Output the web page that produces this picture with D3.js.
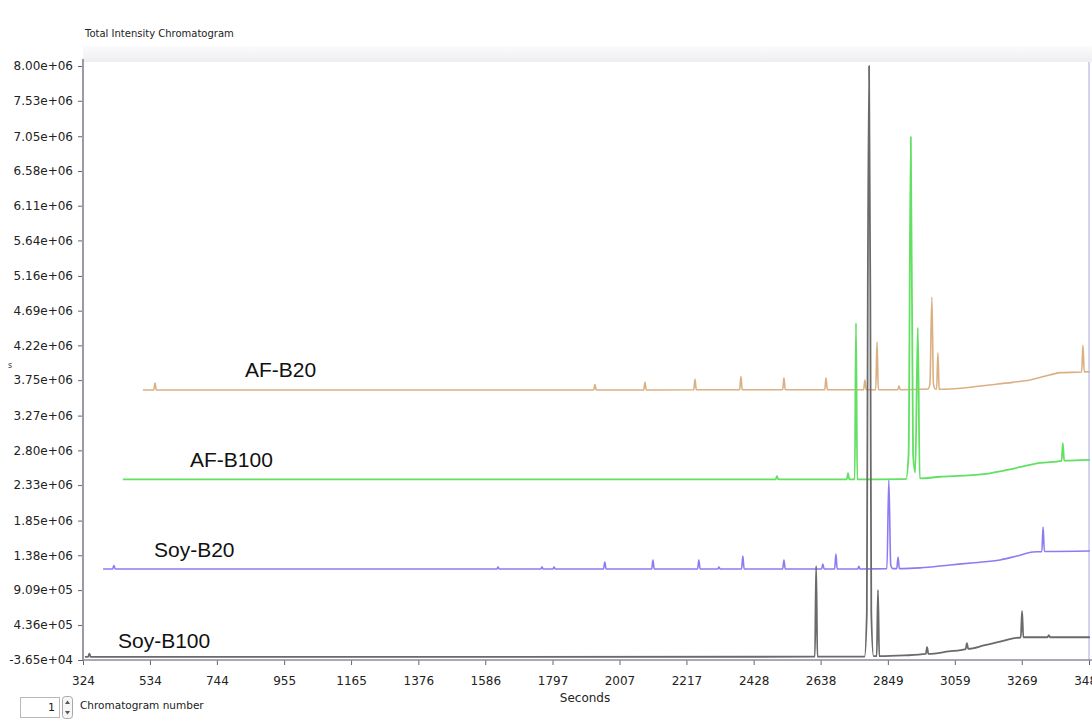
<!DOCTYPE html>
<html><head><meta charset="utf-8">
<script src="https://cdn.jsdelivr.net/npm/d3@7"></script>
<style>body{margin:0;background:#fff;overflow:hidden} svg{display:block}</style>
</head><body><svg id="c" width="1092" height="726"></svg>
<script>
// ---- data (time in seconds, total intensity) ----
const seriesNames = ["AF-B20", "Soy-B20", "AF-B100", "Soy-B100"];

const afB20 = [
  [512,3.616e6],[546,3.616e6],[550,3.711e6],[554,3.616e6],
  [1926,3.616e6],[1930,3.69e6],[1934,3.616e6],
  [2083,3.616e6],[2087,3.72e6],[2091,3.616e6],
  [2240,3.62e6],[2244,3.76e6],[2248,3.62e6],
  [2384,3.62e6],[2388,3.80e6],[2392,3.62e6],
  [2519,3.62e6],[2523,3.78e6],[2527,3.62e6],
  [2651,3.62e6],[2655,3.78e6],[2659,3.62e6],
  [2773,3.62e6],[2777,3.75e6],[2781,3.62e6],
  [2811,3.62e6],[2815,4.27e6],[2819,3.62e6],
  [2880,3.62e6],[2884,3.67e6],[2888,3.62e6],
  [2975,3.63e6],[2981,3.70e6],[2987,4.875e6],[2992,3.70e6],[2998,3.63e6],
  [3002,3.63e6],[3006,4.12e6],[3010,3.63e6],
  [3013,3.626e6],[3100,3.65e6],[3169,3.684e6],[3240,3.72e6],[3295,3.752e6],[3357,3.820e6],[3389,3.851e6],
  [3457,3.86e6],[3461,4.225e6],[3465,3.862e6],[3483,3.864e6]
];

const afB100 = [
  [449,2.408e6],
  [2497,2.408e6],[2501,2.45e6],[2505,2.408e6],
  [2720,2.408e6],[2724,2.49e6],[2728,2.408e6],
  [2745,2.408e6],[2749,4.523e6],[2753,2.408e6],
  [2906,2.41e6],[2914,2.75e6],[2921,7.04e6],[2928,2.75e6],[2935,2.5e6],[2943,4.46e6],[2949,2.42e6],
  [3013,2.443e6],[3100,2.46e6],[3169,2.489e6],[3240,2.55e6],[3295,2.602e6],[3326,2.629e6],
  [3394,2.658e6],[3398,2.899e6],[3402,2.66e6],[3483,2.670e6]
];

const soyB20 = [
  [387,1.195e6],
  [417,1.195e6],[421,1.24e6],[425,1.195e6],
  [1622,1.195e6],[1626,1.22e6],[1630,1.195e6],
  [1760,1.195e6],[1764,1.22e6],[1768,1.195e6],
  [1798,1.195e6],[1802,1.22e6],[1806,1.195e6],
  [1957,1.195e6],[1961,1.29e6],[1965,1.195e6],
  [2108,1.195e6],[2112,1.317e6],[2116,1.195e6],
  [2252,1.195e6],[2256,1.317e6],[2260,1.195e6],
  [2315,1.195e6],[2319,1.22e6],[2323,1.195e6],
  [2390,1.195e6],[2394,1.371e6],[2398,1.195e6],
  [2519,1.195e6],[2523,1.317e6],[2527,1.195e6],
  [2641,1.195e6],[2645,1.26e6],[2649,1.195e6],
  [2682,1.195e6],[2686,1.398e6],[2690,1.195e6],
  [2754,1.195e6],[2758,1.23e6],[2762,1.195e6],
  [2846,1.2e6],[2852,2.40e6],[2858,1.25e6],[2864,1.2e6],
  [2877,1.2e6],[2881,1.357e6],[2885,1.2e6],
  [2950,1.21e6],[3044,1.249e6],[3120,1.28e6],[3201,1.317e6],[3254,1.371e6],[3304,1.425e6],
  [3332,1.43e6],[3336,1.763e6],[3340,1.432e6],[3483,1.438e6]
];

const soyB100 = [
  [330,5e3],[340,5e3],[344,5e4],[348,5e3],
  [2620,8e3],[2624,1.235e6],[2628,8e3],
  [2776,1e4],[2783,6e5],[2786,4.9e6],[2790,8.0e6],[2794,4.9e6],[2797,6e5],[2804,1.5e4],
  [2814,1.5e4],[2818,9.11e5],[2822,1.5e4],
  [2900,2.5e4],
  [2968,4.5e4],[2972,1.39e5],[2976,4.7e4],
  [3040,8.0e4],
  [3093,1.12e5],[3097,1.93e5],[3101,1.15e5],
  [3150,1.6e5],[3201,2.11e5],[3242,2.57e5],
  [3266,2.71e5],[3270,6.27e5],[3274,2.71e5],
  [3350,2.71e5],[3354,3.0e5],[3358,2.71e5],[3483,2.71e5]
];

const xTickValues = [324,534,744,955,1165,1376,1586,1797,2007,2217,2428,2638,2849,3059,3269,3480];
const xTickLabels = ["324","534","744","955","1165","1376","1586","1797","2007","2217","2428","2638","2849","3059","3269","3480"];
const yTickValues = [-36500,436000,909000,1380000,1850000,2330000,2800000,3270000,3750000,4220000,4690000,5160000,5640000,6110000,6580000,7050000,7530000,8000000];
const yTickLabels = ["-3.65e+04","4.36e+05","9.09e+05","1.38e+06","1.85e+06","2.33e+06","2.80e+06","3.27e+06","3.75e+06","4.22e+06","4.69e+06","5.16e+06","5.64e+06","6.11e+06","6.58e+06","7.05e+06","7.53e+06","8.00e+06"];

// ---- layout ----
const svg = d3.select("#c");
const L = 83, R = 1089, T = 62, B = 660;
const x = d3.scaleLinear().domain([324, 3480]).range([L, R]);
const y = d3.scaleLinear().domain([-36500, 8000000]).range([B, 66]);

// top band
const defs = svg.append("defs");
const g1 = defs.append("linearGradient").attr("id","band").attr("x1",0).attr("y1",0).attr("x2",0).attr("y2",1);
g1.append("stop").attr("offset","0%").attr("stop-color","#fbfbfc");
g1.append("stop").attr("offset","100%").attr("stop-color","#eeeef1");
svg.append("rect").attr("x",L).attr("y",46).attr("width",1092-L).attr("height",T-46).attr("fill","url(#band)");
defs.append("clipPath").attr("id","clip").append("rect").attr("x",L).attr("y",T).attr("width",R-L+1).attr("height",B-T);

// title
svg.append("text").attr("x",85).attr("y",37).attr("font-family","DejaVu Sans").attr("font-size",10)
  .attr("fill","#222").text("Total Intensity Chromatogram");

// right border
svg.append("line").attr("x1",R).attr("x2",R).attr("y1",T).attr("y2",B).attr("stroke","#c4c4f2").attr("stroke-width",1.5);

// lines
const line = d3.line().x(d => x(d[0])).y(d => y(d[1])).curve(d3.curveMonotoneX);
const series = [
  {name:"AF-B20", data:afB20, color:"#dab083", w:1.6},
  {name:"Soy-B20", data:soyB20, color:"#8c7cf2", w:1.6},
  {name:"AF-B100", data:afB100, color:"#62e062", w:1.8},
  {name:"Soy-B100", data:soyB100, color:"#6a6a6a", w:1.8}
];
const plot = svg.append("g").attr("clip-path","url(#clip)");
plot.selectAll("path.s").data(series).join("path").attr("class","s")
  .attr("d", d => line(d.data)).attr("fill","none")
  .attr("stroke", d => d.color).attr("stroke-width", d => d.w).attr("stroke-linejoin","round");

// series labels
const labelPos = {"AF-B20":[245,377], "AF-B100":[190,467], "Soy-B20":[154,557], "Soy-B100":[118,648]};
svg.selectAll("text.lab").data(seriesNames).join("text").attr("class","lab")
  .attr("x", d => labelPos[d][0]).attr("y", d => labelPos[d][1])
  .attr("font-family","Liberation Sans, Arial, sans-serif").attr("font-size",21).attr("fill","#111")
  .text(d => d);

// axes
const yAxis = d3.axisLeft(y).tickValues(yTickValues).tickFormat((d,i) => yTickLabels[i]).tickSize(5).tickPadding(5).tickSizeOuter(0);
const gy = svg.append("g").attr("transform",`translate(${L},0)`).call(yAxis);
gy.select(".domain").remove();
svg.append("line").attr("x1",L).attr("x2",L).attr("y1",59).attr("y2",B).attr("stroke","#9a9aa6").attr("stroke-width",2);
gy.selectAll(".tick line").attr("stroke","#666");
gy.selectAll(".tick text").attr("font-family","DejaVu Sans").attr("font-size",12).attr("fill","#222");

const xAxis = d3.axisBottom(x).tickValues(xTickValues).tickFormat((d,i) => xTickLabels[i]).tickSize(5).tickPadding(11).tickSizeOuter(0);
const gx = svg.append("g").attr("transform",`translate(0,${B})`).call(xAxis);
gx.select(".domain").remove();
svg.append("line").attr("x1",L).attr("x2",1092).attr("y1",B).attr("y2",B).attr("stroke","#8c8c9c").attr("stroke-width",1.6);
gx.selectAll(".tick line").attr("stroke","#666");
gx.selectAll(".tick text").attr("font-family","DejaVu Sans").attr("font-size",12).attr("fill","#222");

svg.append("text").attr("x",585).attr("y",702).attr("text-anchor","middle")
  .attr("font-family","DejaVu Sans").attr("font-size",12).attr("fill","#222").text("Seconds");

// clipped y-axis title fragment
svg.append("text").attr("x",8).attr("y",368).attr("font-family","DejaVu Sans").attr("font-size",8).attr("fill","#333").text("s");

// chromatogram number control
svg.append("rect").attr("x",20.5).attr("y",697.5).attr("width",39).attr("height",20).attr("fill","#fff").attr("stroke","#b8b8b8");
svg.append("text").attr("x",55).attr("y",711).attr("text-anchor","end").attr("font-family","DejaVu Sans").attr("font-size",11).attr("fill","#222").text("1");
svg.append("rect").attr("x",62.5).attr("y",696.5).attr("width",10).attr("height",22).attr("rx",3).attr("fill","#f6f6f6").attr("stroke","#a8a8a8");
svg.append("path").attr("d","M65,704 L67.5,700.5 L70,704 Z").attr("fill","#555");
svg.append("path").attr("d","M65,711 L67.5,714.5 L70,711 Z").attr("fill","#555");
svg.append("text").attr("x",80).attr("y",709).attr("font-family","DejaVu Sans").attr("font-size",10.5).attr("fill","#222").text("Chromatogram number");
</script></body></html>
